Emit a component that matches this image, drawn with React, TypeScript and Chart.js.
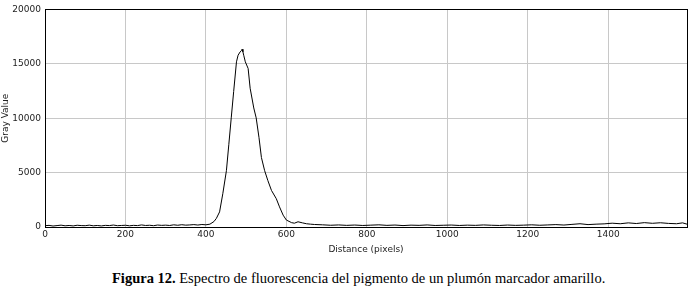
import React, { useEffect, useRef } from "react";
import { Chart, registerables } from "chart.js";

Chart.register(...registerables);

const distance = [
  0, 10, 20, 30, 40, 50, 60, 70, 80, 90, 100, 110, 120, 130, 140, 150, 160, 170, 180, 190,
  200, 210, 220, 230, 240, 250, 260, 270, 280, 290, 300, 310, 320, 330, 340, 350, 360, 370, 380, 390,
  400, 410, 420, 426, 434, 442, 451, 457, 463, 469, 476, 480, 485, 488, 490, 492, 494, 498,
  505, 510, 519, 525, 532, 538, 546, 554, 563, 575, 583, 592, 600, 613, 620, 629, 640, 650, 660, 670,
  690, 710, 730, 750, 770, 790, 810, 830, 850, 870, 890, 910, 930, 950, 970, 990, 1010, 1030, 1050,
  1070, 1090, 1110, 1130, 1150, 1170, 1190, 1210, 1230, 1250, 1270, 1290, 1310, 1330, 1350, 1370,
  1390, 1410, 1430, 1450, 1470, 1490, 1510, 1530, 1550, 1570, 1585, 1596,
];

const grayValue = [
  120, 150, 90, 130, 170, 110, 140, 100, 160, 130, 120, 170, 110, 140, 100, 150, 130, 180, 120, 140,
  160, 110, 150, 130, 190, 140, 160, 120, 180, 150, 170, 140, 200, 160, 210, 170, 190, 220, 180, 230,
  200, 260, 500, 790, 1390, 3060, 5180, 7600, 10030, 12450, 15180, 15790, 16090, 16200, 16340, 16100, 15790, 15180,
  14570, 12750, 10940, 10030, 8210, 6390, 5180, 4270, 3360, 2600, 1850, 1090, 640, 400, 350, 480, 380, 300, 260, 230,
  200, 160, 190, 150, 180, 140, 170, 200, 150, 180, 130, 170, 150, 190, 140, 160, 180, 140, 170,
  150, 190, 160, 140, 180, 150, 170, 200, 160, 190, 220, 180, 240, 300, 220, 260,
  290, 350, 300, 380, 320, 400, 340, 390, 330, 300, 380, 260,
];

const xTickValues = [0, 200, 400, 600, 800, 1000, 1200, 1400];
const yTickValues = [0, 5000, 10000, 15000, 20000];
const xMax = 1596;
const yMax = 20000;
const xTitle = "Distance (pixels)";
const yTitle = "Gray Value";

const boxPlugin = {
  id: "boxPlugin",
  afterDraw(chart: any) {
    const { ctx, chartArea } = chart;
    ctx.save();
    ctx.strokeStyle = "#000";
    ctx.lineWidth = 1;
    ctx.strokeRect(
      Math.round(chartArea.left) + 0.5,
      Math.round(chartArea.top) + 0.5,
      Math.round(chartArea.right - chartArea.left),
      Math.round(chartArea.bottom - chartArea.top)
    );
    ctx.restore();
  },
};

export default function App() {
  const ref = useRef<HTMLCanvasElement | null>(null);

  useEffect(() => {
    if (!ref.current) return;
    const points = distance.map((d, i) => ({ x: d, y: grayValue[i] }));
    const font = { family: "DejaVu Sans", size: 9 };
    const chart = new Chart(ref.current, {
      type: "line",
      data: {
        datasets: [
          {
            data: points,
            borderColor: "#000",
            borderWidth: 1,
            pointRadius: 0,
            tension: 0,
            fill: false,
          },
        ],
      },
      options: {
        animation: false,
        responsive: true,
        maintainAspectRatio: false,
        layout: { padding: { top: 7, right: 6, left: 0, bottom: 0 } },
        plugins: { legend: { display: false }, tooltip: { enabled: false } },
        scales: {
          x: {
            type: "linear",
            min: 0,
            max: xMax,
            afterBuildTicks: (s: any) => {
              s.ticks = xTickValues.map((v) => ({ value: v }));
            },
            afterFit: (s: any) => {
              s.height = 28;
            },
            ticks: {
              color: "#222",
              font,
              padding: 2,
              maxRotation: 0,
              autoSkip: false,
              callback: (v: any) => String(v),
            },
            grid: { color: "#c8c8c8", drawTicks: false },
            border: { color: "#000" },
            title: { display: true, text: xTitle, color: "#222", font, padding: { top: 1, bottom: 0 } },
          },
          y: {
            type: "linear",
            min: 0,
            max: yMax,
            afterBuildTicks: (s: any) => {
              s.ticks = yTickValues.map((v) => ({ value: v }));
            },
            afterFit: (s: any) => {
              s.width = 45;
            },
            ticks: { color: "#222", font, padding: 4, autoSkip: false, callback: (v: any) => String(v) },
            grid: { color: "#c8c8c8", drawTicks: false },
            border: { color: "#000" },
            title: { display: true, text: yTitle, color: "#222", font, padding: { top: 0, bottom: 0 } },
          },
        },
      },
      plugins: [boxPlugin],
    } as any);
    return () => chart.destroy();
  }, []);

  return (
    <div style={{ position: "absolute", left: 0, top: 0, width: 693, height: 293, background: "#fff" }}>
      <div style={{ position: "absolute", left: 0, top: 0, width: 693, height: 255 }}>
        <canvas ref={ref} />
      </div>
      <div
        style={{
          position: "absolute",
          left: 112,
          top: 270,
          whiteSpace: "nowrap",
          fontFamily: "'Liberation Serif', 'Times New Roman', serif",
          fontSize: 14.5,
          lineHeight: "17px",
          color: "#000",
        }}
      >
        <b>Figura 12.</b> Espectro de fluorescencia del pigmento de un plumón marcador amarillo.
      </div>
    </div>
  );
}
